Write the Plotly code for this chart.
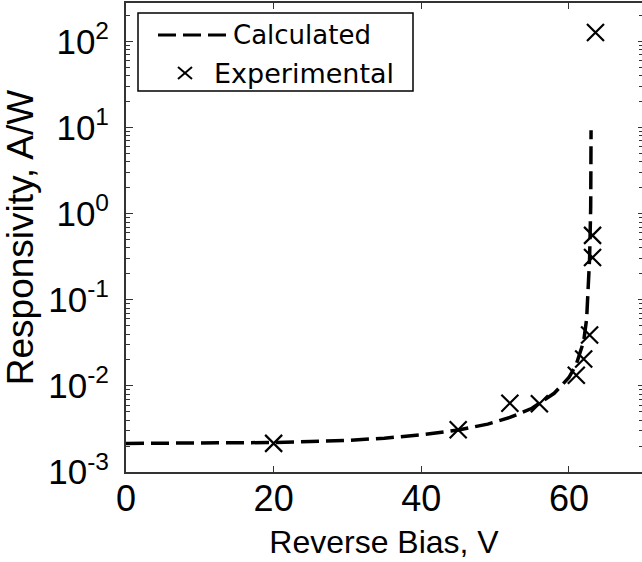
import plotly.graph_objects as go

# ---- data ----
calc_v = [0, 10, 20, 25, 30, 35, 40, 45, 49, 52, 55, 58, 60, 61, 62, 62.4, 62.6, 62.8, 62.95, 63.0]
calc_r = [2.15e-3, 2.17e-3, 2.2e-3, 2.26e-3, 2.33e-3, 2.47e-3, 2.7e-3, 3.07e-3, 3.6e-3, 4.3e-3,
          5.5e-3, 8.2e-3, 0.0125, 0.0178, 0.033, 0.06, 0.12, 0.3, 1.2, 9.3]

exp_v = [20, 45, 52, 56, 61, 62, 62.8, 63.2, 63.2, 63.6]
exp_r = [2.15e-3, 3.1e-3, 6.3e-3, 6.2e-3, 0.0133, 0.0205, 0.039, 0.31, 0.56, 127]

x_tickvals = [0, 20, 40, 60]
y_tickvals = [1e-3, 1e-2, 1e-1, 1e0, 1e1, 1e2]
y_ticktext = ["10<sup>-3</sup>", "10<sup>-2</sup>", "10<sup>-1</sup>",
              "10<sup>0</sup>", "10<sup>1</sup>", "10<sup>2</sup>"]
y_minor = [k * 10.0 ** e for e in range(-3, 3) for k in range(2, 10)]

W, H = 642, 562
ML, MR, MT, MB = 126, 0, 3, 90
PW, PH = W - ML - MR, H - MT - MB
AX = "#333333"
FONT = "Liberation Sans, Arial, sans-serif"


def px(x):
    return (x - ML) / PW


def py(y):
    return (H - MB - y) / PH


fig = go.Figure()
fig.add_trace(go.Scatter(
    x=calc_v, y=calc_r, mode="lines", name="Calculated",
    line=dict(color="black", width=3.5, dash="18px,7px"),
    showlegend=False, yaxis="y"))
fig.add_trace(go.Scatter(
    x=exp_v, y=exp_r, mode="markers", name="Experimental",
    marker=dict(symbol="x-thin", size=17, color="black",
                line=dict(color="black", width=2.2)),
    showlegend=False, yaxis="y2"))

yr = [-3, 2.447]
fig.update_layout(
    width=W, height=H,
    margin=dict(l=ML, r=MR, t=MT, b=MB, pad=0),
    paper_bgcolor="white", plot_bgcolor="white",
    font=dict(family=FONT, color="black"),
    xaxis=dict(
        range=[0, 69.9], tickmode="array", tickvals=x_tickvals,
        ticks="inside", ticklen=6, tickwidth=1, tickcolor=AX,
        showline=True, linecolor=AX, linewidth=2, mirror="ticks",
        showgrid=False, zeroline=False,
        tickfont=dict(size=36, family=FONT),
        ticklabelstandoff=-6,
        title=dict(text="Reverse Bias, V", font=dict(size=32, family=FONT), standoff=12),
    ),
    yaxis=dict(
        type="log", range=yr, tickmode="array", tickvals=y_tickvals, ticktext=y_ticktext,
        ticks="inside", ticklen=7, tickwidth=1, tickcolor=AX,
        minor=dict(ticks="inside", ticklen=4, tickcolor=AX, tickvals=y_minor, showgrid=False),
        showline=True, linecolor=AX, linewidth=2, mirror=False,
        showgrid=False, zeroline=False,
        tickfont=dict(size=35, family=FONT),
        ticklabelstandoff=8,
        title=dict(text="Responsivity, A/W", font=dict(size=37, family=FONT), standoff=6),
    ),
    yaxis2=dict(
        type="log", range=yr, overlaying="y", side="right", anchor="x",
        tickmode="array", tickvals=y_tickvals, showticklabels=False,
        ticks="inside", ticklen=4, tickwidth=1, tickcolor=AX,
        minor=dict(ticks="inside", ticklen=3, tickcolor=AX, tickvals=y_minor, showgrid=False),
        showline=False, showgrid=False, zeroline=False,
    ),
)

# ---- legend box drawn in the MATLAB style ----
shapes = [
    dict(type="rect", xref="paper", yref="paper",
         x0=px(138), x1=px(413), y0=py(91), y1=py(13),
         line=dict(color="black", width=1.5), fillcolor="white", layer="above"),
    dict(type="line", xref="paper", yref="paper",
         x0=px(158), x1=px(227), y0=py(35), y1=py(35),
         line=dict(color="black", width=3, dash="18px,7px"), layer="above"),
    dict(type="line", xref="paper", yref="paper",
         x0=px(178), x1=px(192), y0=py(67), y1=py(79),
         line=dict(color="black", width=2), layer="above"),
    dict(type="line", xref="paper", yref="paper",
         x0=px(178), x1=px(192), y0=py(79), y1=py(67),
         line=dict(color="black", width=2), layer="above"),
]
annotations = [
    dict(xref="paper", yref="paper", x=px(231), y=py(35), xanchor="left", yanchor="middle",
         text="Calculated", showarrow=False, font=dict(size=26, family="DejaVu Sans")),
    dict(xref="paper", yref="paper", x=px(212), y=py(73), xanchor="left", yanchor="middle",
         text="Experimental", showarrow=False, font=dict(size=27, family="DejaVu Sans")),
]
fig.update_layout(shapes=shapes, annotations=annotations)

fig.write_html("out.html")
